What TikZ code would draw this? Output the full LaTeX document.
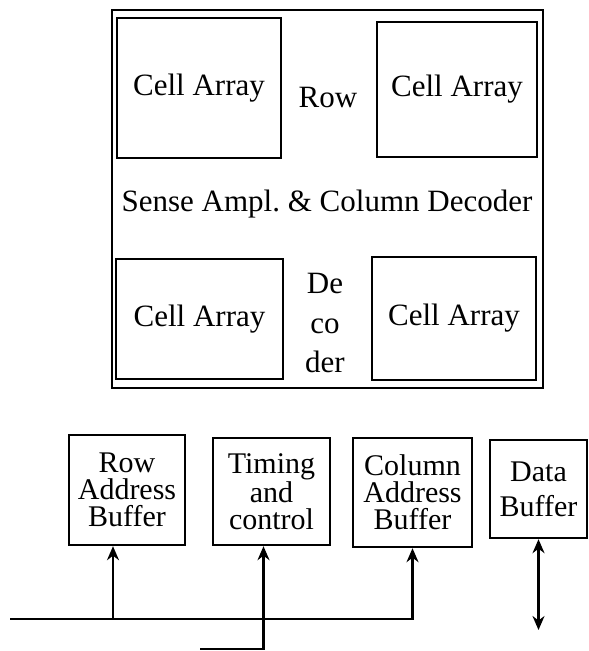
\documentclass[tikz,border=0pt]{standalone}
\usepackage{fontspec}
\setmainfont{Liberation Serif}
\usetikzlibrary{arrows.meta}

\begin{document}
\begin{tikzpicture}[
  x=0.5pt, y=-0.5pt,
  font=\fontsize{15.5}{14}\selectfont,
  cell/.style={draw, line width=1.2pt, minimum width=82pt, inner sep=0pt},
  buf/.style={draw, line width=1.2pt, inner sep=1pt, align=center,
              font=\fontsize{15}{13.5}\selectfont},
  lbl/.style={anchor=base, inner sep=0pt},
  arr/.style={-{Stealth[length=7pt, width=6pt]}, line width=1.1pt},
  darr/.style={{Stealth[length=7pt, width=6pt]}-{Stealth[length=7pt, width=6pt]}, line width=1.1pt},
]
\useasboundingbox (0,0) rectangle (588,651);

% memory chip
\node[draw, line width=1.3pt, minimum width=215.5pt, minimum height=189pt] (chip) at (327.5,199) {};
\node[cell, minimum height=70pt] (ca1) at (199,88) {Cell Array};
\node[cell, minimum width=80pt, minimum height=67.5pt] (ca2) at (457,89.5) {Cell Array};
\node[cell, minimum width=83.5pt, minimum height=60pt] (ca3) at (199.5,319) {Cell Array};
\node[cell, minimum height=61.5pt] (ca4) at (454,318.5) {Cell Array};
\node[lbl] (rowdec) at (328,108) {Row};
\node[lbl] (sense) at (327,212) {Sense Ampl.\ \& Column Decoder};
\node[lbl] (dec1) at (325,293) {De};
\node[lbl] (dec2) at (325,333) {co};
\node[lbl] (dec3) at (325,372) {der};

% buffers
\node[buf, minimum width=58pt, minimum height=55pt] (rab) at (127,490) {Row\\Address\\Buffer};
\node[buf, minimum width=58.5pt, minimum height=53.5pt] (tc) at (271.5,491.5) {Timing\\and\\control};
\node[buf, minimum width=59.5pt, minimum height=54.5pt] (cab) at (412.5,492.5) {Column\\Address\\Buffer};
\node[buf, minimum width=48.5pt, minimum height=49pt] (db) at (538.5,489) {Data\\[4pt]Buffer};

\coordinate (busin) at (10,619);
\coordinate (ctlin) at (200,649);
\coordinate (dlevel) at (0,630);
\draw[arr] (busin) -- (busin -| cab.south) -- (cab.south);
\draw[arr] ([xshift=-7pt]rab.south |- busin) -- ([xshift=-7pt]rab.south);
\draw[arr] (ctlin) -| ([xshift=-4pt]tc.south);
\draw[darr] (db.south) -- (db.south |- dlevel);
\end{tikzpicture}
\end{document}
